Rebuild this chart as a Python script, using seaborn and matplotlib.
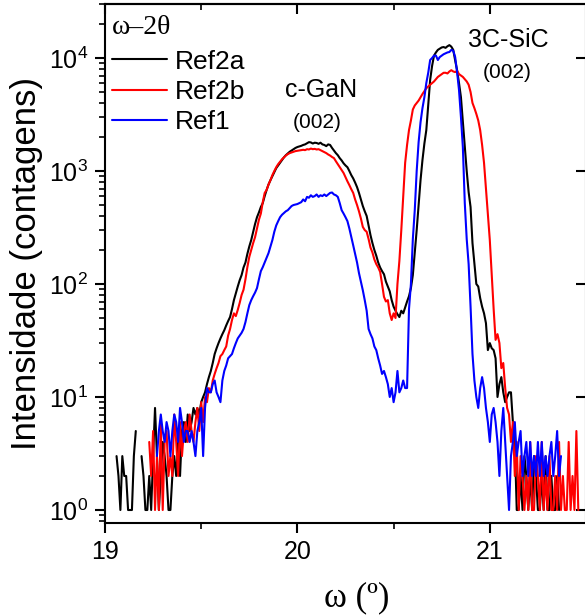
import numpy as np
import pandas as pd
import matplotlib
matplotlib.use("Agg")
import matplotlib.pyplot as plt
from matplotlib.lines import Line2D
import seaborn as sns

nan = np.nan

# sampling positions (degrees), 0.01 step from 19.05 to 21.46
omega = np.round(np.arange(19.05, 21.465, 0.01), 2)

ref2a = [
    nan, 3, 2, 1, 3, 2, 2, 1, 1, 1, 3, 5, nan, nan, 3, 2, 1, 1, 2, 1,          # 19.05-19.24
    3, 8, 3, 1, 2, 4, 3, 2, 1, 1, 2, 3, 2, 4, 2, 5, 6, 4, 7, 5,                 # 19.25-19.44
    6, 8, 7, 8, 7, 9, 10, 11, 13, 15, 17, 20, 24, 27, 30, 33, 36, 39, 43, 47,   # 19.45-19.64
    51, 60, 72, 83, 95, 108, 120, 140, 155, 185, 215, 245, 290, 340, 390, 430, 480, 520, 600, 680,  # 19.65-19.84
    760, 830, 900, 980, 1060, 1120, 1180, 1250, 1320, 1380, 1430, 1480, 1520, 1560, 1600, 1630, 1650, 1670, 1700, 1720,  # 19.85-20.04
    1760, 1800, 1790, 1750, 1780, 1770, 1740, 1780, 1720, 1700, 1660, 1720, 1700, 1600, 1520, 1440, 1380, 1300, 1240, 1170,  # 20.05-20.24
    1120, 1080, 1000, 920, 860, 790, 720, 640, 560, 490, 440, 400, 330, 270, 230, 200, 178, 155, 140, 130,  # 20.25-20.44
    122, 105, 95, 86, 72, 63, 58, 54, 51, 58, 55, 62, 70, 78, 92, 120, 190, 300, 500, 830,  # 20.45-20.64
    1250, 1750, 2300, 3800, 6400, 8500, 10500, 11200, 11800, 12100, 12400, 12500, 12300, 12700, 13000, 12600, 11800, 9500, 7800, 6000,  # 20.65-20.84
    4500, 2700, 1620, 1000, 650, 480, 230, 150, 100, 95, 75, 63, 55, 45, 26, 30, 27, 26, 22, 10,  # 20.85-21.04
    13, 15, 11, 9, 10, 11, 11, 6, 4, 1, 1, 2, 1, 3, 2, 1, 2, 1, 3, 2,           # 21.05-21.24
    1, 1, 2, 1, 3, 1, 1, 2, 1, 1, 2, 1, nan, nan, nan, nan, nan, nan, nan, nan,  # 21.25-21.44
    nan, nan,                                                                    # 21.45-21.46
]

ref2b = [
    nan, nan, nan, nan, nan, nan, nan, nan, nan, nan, nan, nan, nan, nan, nan, nan, nan, nan, 4, 2,  # 19.05-19.24
    5, 1, 3, 1, 6, 1, 4, 5, 2, 3, 2, 7, 4, 2, 6, 3, 5, 6, 4, 7,                 # 19.25-19.44
    5, 4, 6, 8, 5, 9, 6, 10, 9, 12, 11, 14, 16, 18, 20, 23, 24, 26, 28, 35,     # 19.45-19.64
    40, 48, 55, 52, 59, 68, 80, 89, 110, 141, 174, 200, 230, 260, 310, 370, 420, 530, 640, 680,  # 19.65-19.84
    760, 830, 920, 1000, 1080, 1150, 1210, 1270, 1320, 1370, 1410, 1440, 1460, 1480, 1500, 1510, 1520, 1530, 1540, 1530,  # 19.85-20.04
    1560, 1550, 1580, 1560, 1570, 1550, 1560, 1530, 1500, 1470, 1440, 1400, 1370, 1330, 1300, 1220, 1150, 1080, 1020, 960,  # 20.05-20.24
    880, 810, 750, 690, 640, 560, 500, 440, 380, 320, 300, 290, 250, 210, 190, 165, 150, 140, 128, 100,  # 20.25-20.44
    77, 70, 72, 55, 48, 55, 50, 100, 160, 300, 590, 1180, 1700, 2300, 2800, 3500, 3800, 4000, 4200, 4500,  # 20.45-20.64
    4800, 5100, 5400, 5600, 5800, 6000, 6200, 6500, 6800, 7000, 7200, 7400, 7400, 7300, 7600, 7800, 7600, 7500, 7700, 7200,  # 20.65-20.84
    7000, 6800, 6500, 6200, 5800, 5000, 4000, 3600, 3200, 2800, 2300, 1700, 1180, 700, 420, 245, 120, 60, 32, 36,  # 20.85-21.04
    30, 18, 20, 12, 8, 7, 4, 6, 2, 4, 1, 3, 2, 1, 2, 1, 4, 1, 1, 3,             # 21.05-21.24
    2, 1, 4, 1, 2, 1, 3, 1, 1, 2, 1, 4, 1, 2, 1, 1, 4, 1, 2, 1,                 # 21.25-21.44
    5, 1,                                                                        # 21.45-21.46
]

ref1 = [
    nan, nan, nan, nan, nan, nan, nan, nan, nan, nan, nan, nan, nan, nan, nan, nan, nan, nan, nan, nan,  # 19.05-19.24
    nan, nan, 3, 5, 7, 5, 4, 6, 5, 3, 5, 7, 6, 4, 8, 6, 4, 5, 5, 4,             # 19.25-19.44
    5, 4, 3, 5, 6, 8, 3, 8, 12, 11, 11, 13, 14, 11, 10, 9, 14, 17, 19, 22,      # 19.45-19.64
    23, 24, 27, 30, 33, 35, 37, 40, 46, 55, 65, 72, 78, 84, 92, 110, 130, 141, 155, 170,  # 19.65-19.84
    188, 215, 245, 290, 330, 360, 390, 410, 425, 440, 450, 470, 490, 500, 505, 510, 520, 530, 560, 540,  # 19.85-20.04
    590, 580, 610, 590, 600, 620, 590, 610, 600, 620, 600, 620, 640, 645, 620, 610, 590, 520, 450, 420,  # 20.05-20.24
    390, 360, 310, 260, 220, 185, 155, 125, 105, 88, 72, 58, 40, 36, 33, 28, 26, 22, 19, 16,  # 20.25-20.44
    17, 15, 13, 10, 12, 9, 11, 17, 11, 12, 14, 12, 12, 60, 100, 250, 450, 1000, 1800, 2700,  # 20.45-20.64
    3600, 4500, 6000, 7400, 9600, 10000, 10500, 10500, 9600, 10200, 10500, 10800, 11000, 11200, 11300, 11800, 11600, 10200, 7500, 5200,  # 20.65-20.84
    3000, 1620, 520, 250, 150, 63, 24, 14, 10, 8, 12, 15, 12, 8, 6, 4, 7, 8, 6, 4,  # 20.85-21.04
    2, 5, 8, 4, 2, 1, 3, 4, 6, 3, 4, 5, 2, 3, 4, 2, 4, 2, 3, 2,                 # 21.05-21.24
    4, 2, 4, 2, 3, 2, 3, 4, 2, 3, 5, 2, 3, nan, nan, nan, nan, nan, nan, nan,   # 21.25-21.44
    nan, nan,                                                                    # 21.45-21.46
]

series_names = ["Ref2a", "Ref2b", "Ref1"]
series_values = [ref2a, ref2b, ref1]
series_colors = {"Ref2a": "#000000", "Ref2b": "#ff0000", "Ref1": "#0000ff"}

# build a long table; zero-count gaps split each curve into separate segments
frames = []
for name, vals in zip(series_names, series_values):
    v = np.asarray(vals, dtype=float)
    seg = np.cumsum(np.isnan(v))
    d = pd.DataFrame({"omega": omega, "count": v, "series": name, "seg": seg})
    frames.append(d.dropna())
df = pd.concat(frames, ignore_index=True)

sns.set_style("ticks", {"axes.edgecolor": "black", "xtick.color": "black",
                        "ytick.color": "black", "text.color": "black",
                        "axes.labelcolor": "black"})
plt.rcParams["font.family"] = ["Liberation Sans", "DejaVu Sans"]
plt.rcParams["mathtext.default"] = "regular"
serif = ["Liberation Serif", "DejaVu Serif"]

W, H = 585, 615
fig = plt.figure(figsize=(W / 100, H / 100), dpi=100)
ax = fig.add_axes([105 / W, 1 - 523 / H, (586 - 105) / W, (523 - 4) / H])

sns.lineplot(data=df, x="omega", y="count", hue="series", units="seg",
             estimator=None, sort=False, palette=series_colors,
             hue_order=series_names, linewidth=1.5, legend=False, ax=ax)

ax.set_yscale("log")
ax.set_xlim(19, 21.467)
ax.set_ylim(10 ** (-(523 - 510) / 113), 10 ** (4 + 54 / 113))
ax.set_xticks([19, 20, 21])
ax.set_xticks([19.5, 20.5, 21.5], minor=True)
ax.set_xticklabels(["19", "20", "21"])
ax.set_yticks([1, 10, 100, 1000, 10000])

for s in ax.spines.values():
    s.set_linewidth(1.5)
    s.set_visible(True)

ax.tick_params(axis="both", which="major", direction="out", length=7, width=1.5,
               labelsize=18, pad=5)
ax.tick_params(axis="both", which="minor", direction="out", length=4, width=1.2)

# mirrored ticks pointing inwards on top and right
top = ax.secondary_xaxis("top")
top.set_xticks([19, 20, 21])
top.set_xticks([19.5, 20.5, 21.5], minor=True)
top.tick_params(which="major", direction="in", length=7, width=1.5, labeltop=False)
top.tick_params(which="minor", direction="in", length=4, width=1.2, labeltop=False)
top.spines["top"].set_linewidth(1.5)
right = ax.secondary_yaxis("right")
right.set_yticks([1, 10, 100, 1000, 10000])
right.tick_params(which="major", direction="in", length=7, width=1.5, labelright=False)
right.tick_params(which="minor", length=0, labelright=False)

ax.set_ylabel("Intensidade (contagens)", fontsize=25)
ax.yaxis.set_label_coords(-0.128, 0.5)
ax.set_xlabel("ω (º)", fontsize=25, family=serif)
ax.xaxis.set_label_coords(0.524, -0.160)
ax.xaxis.label.set_verticalalignment("baseline")

ax.text(20.125, 5200, "c-GaN", fontsize=18, ha="center", va="center")
ax.text(20.105, 2660, "(002)", fontsize=15, ha="center", va="center")
ax.text(21.095, 14400, "3C-SiC", fontsize=18, ha="center", va="center")
ax.text(21.09, 7370, "(002)", fontsize=15, ha="center", va="center")

ax.text((112 - 105) / 481, (523 - 27) / 519, "ω–2θ", transform=ax.transAxes,
        fontsize=20, family=serif, ha="left", va="center")

handles = [Line2D([], [], color=series_colors[n], lw=1.5) for n in series_names]
leg = ax.legend(handles, series_names, loc="upper left",
                bbox_to_anchor=((109 - 105) / 481, (523 - 46.5) / 519),
                frameon=False, fontsize=19, handlelength=2.08, handletextpad=0.3,
                labelspacing=0.24, borderaxespad=0.0, borderpad=0.12)

fig.savefig("out.png", dpi=100)
